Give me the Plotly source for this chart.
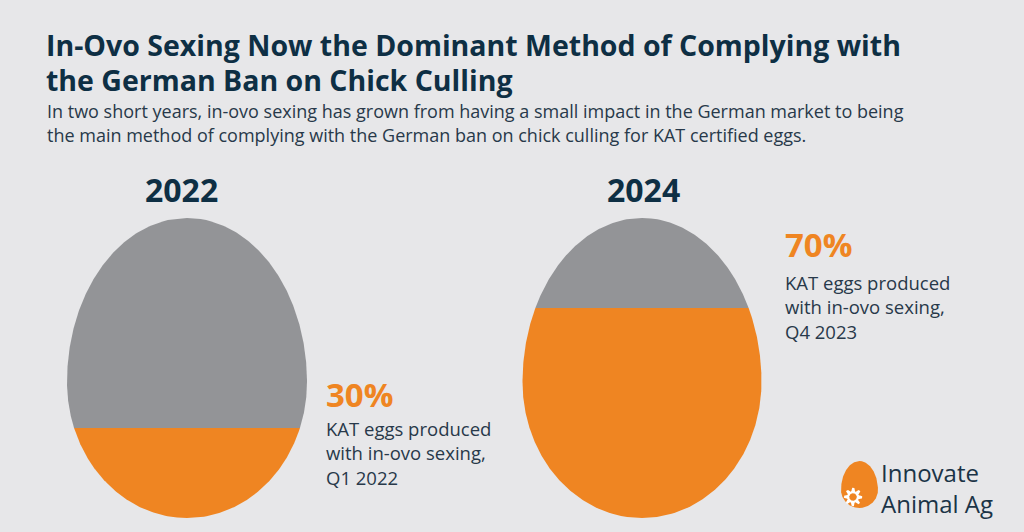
import numpy as np
import plotly.graph_objects as go

# ---- data ----
years = ["2022", "2024"]
in_ovo_share = [30, 70]          # % of KAT eggs produced with in-ovo sexing
share_labels = ["30%", "70%"]
caption_lines = [
    ["KAT eggs produced", "with in-ovo sexing,", "Q1 2022"],
    ["KAT eggs produced", "with in-ovo sexing,", "Q4 2023"],
]
title_lines = [
    "In-Ovo Sexing Now the Dominant Method of Complying with",
    "the German Ban on Chick Culling",
]
subtitle_lines = [
    "In two short years, in-ovo sexing has grown from having a small impact in the German market to being",
    "the main method of complying with the German ban on chick culling for KAT certified eggs.",
]
logo_lines = ["Innovate", "Animal Ag"]

# ---- style ----
BG = "#e7e7e9"
GRAY = "#939497"
ORANGE = "#ef8522"
NAVY = "#0e2f44"
BODY = "#28394a"
W, H = 1024, 532

# egg geometry (pixel layout)
egg_cx = [187, 642]
egg_top, egg_bottom, egg_wide = 218, 518, 382
egg_half_w = [120, 119.5]
year_x = [181, 643]
caption_x = [326, 785]
pct_y = [394, 244]
line_y0 = [428, 282]
line_step = 24.5


def half_width(y, a, top, bottom, wide):
    y = np.asarray(y, dtype=float)
    d = np.where(y < wide, (wide - y) / (wide - top), (y - wide) / (bottom - wide))
    return a * np.sqrt(np.clip(1 - d ** 2, 0, 1))


def egg_part(cx, a, y0, y1, top, bottom, wide, n=200):
    ys = np.linspace(y0, y1, n)
    hw = half_width(ys, a, top, bottom, wide)
    xs = np.concatenate([cx - hw, (cx + hw)[::-1]])
    yy = np.concatenate([ys, ys[::-1]])
    return xs, yy


fig = go.Figure()

for i, yr in enumerate(years):
    level = egg_bottom - in_ovo_share[i] / 100 * (egg_bottom - egg_top)
    gx, gy = egg_part(egg_cx[i], egg_half_w[i], egg_top, level, egg_top, egg_bottom, egg_wide)
    ox, oy = egg_part(egg_cx[i], egg_half_w[i], level, egg_bottom, egg_top, egg_bottom, egg_wide)
    fig.add_trace(go.Scatter(x=gx, y=gy, mode="lines", fill="toself", fillcolor=GRAY,
                             line=dict(width=0, color=GRAY), hoverinfo="skip", showlegend=False))
    fig.add_trace(go.Scatter(x=ox, y=oy, mode="lines", fill="toself", fillcolor=ORANGE,
                             line=dict(width=0, color=ORANGE), hoverinfo="skip", showlegend=False))

# ---- logo egg + gear ----
lx, ltop, lbot, lwide, la = 859.5, 461, 508, 490, 18.5
ex, ey = egg_part(lx, la, ltop, lbot, ltop, lbot, lwide)
fig.add_trace(go.Scatter(x=ex, y=ey, mode="lines", fill="toself", fillcolor=ORANGE,
                         line=dict(width=0, color=ORANGE), hoverinfo="skip", showlegend=False))
th = np.linspace(0, 2 * np.pi, 400)
r_gear = 7.5 + 1.7 * np.clip(np.cos(8 * th) * 3, -1, 1)
gcx, gcy = 853, 497
fig.add_trace(go.Scatter(x=gcx + r_gear * np.cos(th), y=gcy + r_gear * np.sin(th), mode="lines",
                         fill="toself", fillcolor="white", line=dict(width=0, color="white"),
                         hoverinfo="skip", showlegend=False))
fig.add_trace(go.Scatter(x=gcx + 3.8 * np.cos(th), y=gcy + 3.8 * np.sin(th), mode="lines",
                         fill="toself", fillcolor=ORANGE, line=dict(width=0, color=ORANGE),
                         hoverinfo="skip", showlegend=False))

ann = []
TFONT = "Open Sans"
# title
for k, t in enumerate(title_lines):
    ann.append(dict(x=44, y=45 + k * 35, text=t, xanchor="left", yanchor="middle",
                    font=dict(family=TFONT, size=28.5, color=NAVY, weight="bold")))
for k, t in enumerate(subtitle_lines):
    ann.append(dict(x=45, y=111 + k * 24, text=t, xanchor="left", yanchor="middle",
                    font=dict(family=TFONT, size=18, color=BODY)))
# years
for i, yr in enumerate(years):
    ann.append(dict(x=year_x[i], y=189, text=yr, xanchor="center", yanchor="middle",
                    font=dict(family=TFONT, size=32, color=NAVY, weight="bold")))
    ann.append(dict(x=caption_x[i] - 2, y=pct_y[i], text=share_labels[i], xanchor="left", yanchor="middle",
                    font=dict(family=TFONT, size=33, color=ORANGE, weight="bold")))
    for k, t in enumerate(caption_lines[i]):
        ann.append(dict(x=caption_x[i] - 2, y=line_y0[i] + k * line_step, text=t, xanchor="left",
                        yanchor="middle", font=dict(family=TFONT, size=18.5, color=BODY)))
# logo text
ann.append(dict(x=879, y=488, text="<br>".join(logo_lines), xanchor="left", yanchor="middle",
                align="left", font=dict(family=TFONT, size=24, color="#1b3447")))

for a in ann:
    a.update(xref="x", yref="y", showarrow=False)

fig.update_layout(
    width=W, height=H, margin=dict(l=0, r=0, t=0, b=0),
    paper_bgcolor=BG, plot_bgcolor=BG,
    xaxis=dict(range=[0, W], visible=False, fixedrange=True),
    yaxis=dict(range=[H, 0], visible=False, fixedrange=True),
    annotations=ann, showlegend=False,
)
fig.write_html("out.html", config={"displayModeBar": False},
               post_script="document.body.style.margin='0';document.body.style.overflow='hidden';")
